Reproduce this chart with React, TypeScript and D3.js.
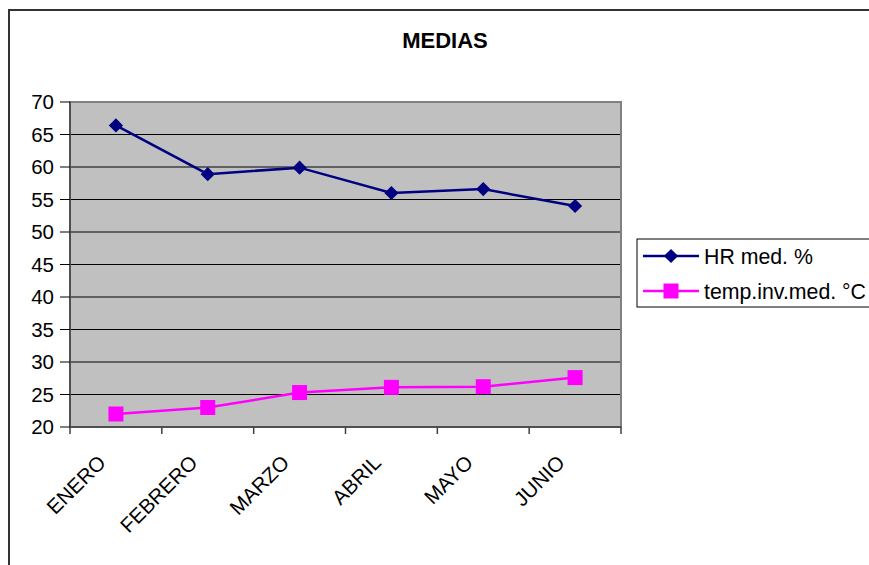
import React from "react";
import * as d3 from "d3";

// Monthly averages
const months = ["ENERO", "FEBRERO", "MARZO", "ABRIL", "MAYO", "JUNIO"];
const hrMed = [66.4, 58.9, 59.9, 56.0, 56.6, 54.0];
const tempInvMed = [22.0, 23.0, 25.3, 26.1, 26.2, 27.6];
const yTicks = [20, 25, 30, 35, 40, 45, 50, 55, 60, 65, 70];
const seriesNames = ["HR med. %", "temp.inv.med. °C"];

const W = 869;
const H = 565;
const plot = { left: 70, right: 621, top: 102, bottom: 427 };
const FONT = "'Liberation Sans', Arial, sans-serif";

export default function App() {
  const x = d3.scaleBand<string>().domain(months).range([plot.left, plot.right]);
  const y = d3.scaleLinear().domain([20, 70]).range([plot.bottom, plot.top]);
  const cx = (m: string) => (x(m) ?? 0) + x.bandwidth() / 2;

  const line = d3
    .line<number>()
    .x((_, i) => cx(months[i]))
    .y((d) => y(d));

  const boundaries = [...months.map((m) => x(m) ?? 0), plot.right];
  const diamond = d3.symbol().type(d3.symbolDiamond2).size(128)()!;
  const legendRows = [plot.top + 154, plot.top + 189];

  return (
    <svg
      width={W}
      height={H}
      style={{ position: "absolute", left: 0, top: 0, display: "block" }}
      fontFamily={FONT}
    >
      <rect x={0} y={0} width={W} height={H} fill="#fff" />
      {/* chart frame */}
      <rect x={9} y={10} width={W + 20} height={H + 20} fill="none" stroke="#333" strokeWidth={2} />

      <text x={445} y={48} textAnchor="middle" fontSize={22} fontWeight="bold" fill="#000">
        MEDIAS
      </text>

      {/* plot area */}
      <rect
        x={plot.left}
        y={plot.top}
        width={plot.right - plot.left}
        height={plot.bottom - plot.top}
        fill="#C0C0C0"
      />
      {yTicks.map((t) => (
        <line key={`g${t}`} x1={plot.left} x2={plot.right} y1={y(t)} y2={y(t)} stroke="#000" strokeWidth={1} />
      ))}
      <rect
        x={plot.left}
        y={plot.top}
        width={plot.right - plot.left}
        height={plot.bottom - plot.top}
        fill="none"
        stroke="#808080"
        strokeWidth={2}
      />
      {/* axes */}
      <line x1={plot.left} x2={plot.left} y1={plot.top} y2={plot.bottom} stroke="#404040" strokeWidth={1.5} />
      <line x1={plot.left} x2={plot.right} y1={plot.bottom} y2={plot.bottom} stroke="#404040" strokeWidth={1.5} />
      {yTicks.map((t) => (
        <g key={`y${t}`}>
          <line x1={plot.left - 10} x2={plot.left} y1={y(t)} y2={y(t)} stroke="#000" strokeWidth={1} />
          <text x={plot.left - 16} y={y(t) + 7} textAnchor="end" fontSize={20.5} fill="#000">
            {t}
          </text>
        </g>
      ))}
      {boundaries.map((b, i) => (
        <line key={`xt${i}`} x1={b} x2={b} y1={plot.bottom} y2={plot.bottom + 7} stroke="#404040" strokeWidth={1.5} />
      ))}
      {months.map((m) => (
        <text
          key={m}
          transform={`translate(${cx(m) - 9},${plot.bottom + 37}) rotate(-45)`}
          textAnchor="end"
          fontSize={20.5}
          fill="#000"
        >
          {m}
        </text>
      ))}

      {/* series */}
      <path d={line(hrMed) ?? ""} fill="none" stroke="#000080" strokeWidth={2.5} />
      <path d={line(tempInvMed) ?? ""} fill="none" stroke="#FF00FF" strokeWidth={2.5} />
      {hrMed.map((v, i) => (
        <path key={`d${i}`} d={diamond} transform={`translate(${cx(months[i])},${y(v)})`} fill="#000080" />
      ))}
      {tempInvMed.map((v, i) => (
        <rect key={`s${i}`} x={cx(months[i]) - 7.5} y={y(v) - 7.5} width={15} height={15} fill="#FF00FF" />
      ))}

      {/* legend */}
      <rect x={637} y={239} width={260} height={68} fill="#fff" stroke="#000" strokeWidth={1} />
      <line x1={643} x2={699} y1={legendRows[0]} y2={legendRows[0]} stroke="#000080" strokeWidth={2.5} />
      <path d={diamond} transform={`translate(671,${legendRows[0]})`} fill="#000080" />
      <text x={704} y={legendRows[0] + 7.5} fontSize={21.3} fill="#000">
        {seriesNames[0]}
      </text>
      <line x1={643} x2={699} y1={legendRows[1]} y2={legendRows[1]} stroke="#FF00FF" strokeWidth={2.5} />
      <rect x={663.5} y={legendRows[1] - 7.5} width={15} height={15} fill="#FF00FF" />
      <text x={704} y={legendRows[1] + 7.5} fontSize={21.3} fill="#000">
        {seriesNames[1]}
      </text>
    </svg>
  );
}
